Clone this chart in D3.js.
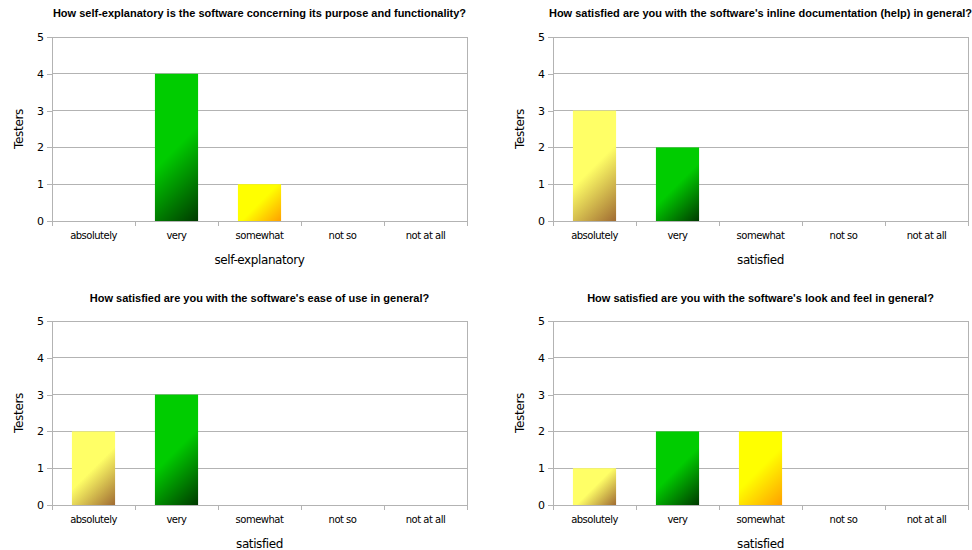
<!DOCTYPE html>
<html>
<head>
<meta charset="utf-8">
<script src="https://cdn.jsdelivr.net/npm/d3@7"></script>
<style>
  html, body { margin: 0; padding: 0; background: #fff; }
  svg { display: block; }
</style>
</head>
<body>
<svg id="chart" width="972" height="550"></svg>
<script>
// Survey answers, one panel per question
const categories = ["absolutely", "very", "somewhat", "not so", "not at all"];
const yTicks = [0, 1, 2, 3, 4, 5];

const titles = [
  "How self-explanatory is the software concerning its purpose and functionality?",
  "How satisfied are you with the software's inline documentation (help) in general?",
  "How satisfied are you with the software's ease of use in general?",
  "How satisfied are you with the software's look and feel in general?"
];
const xTitles = ["self-explanatory", "satisfied", "satisfied", "satisfied"];
const yTitle = "Testers";

const selfExplanatory = [0, 4, 1, 0, 0];
const inlineDocumentation = [3, 2, 0, 0, 0];
const easeOfUse = [2, 3, 0, 0, 0];
const lookAndFeel = [1, 2, 2, 0, 0];
const panelValues = [selfExplanatory, inlineDocumentation, easeOfUse, lookAndFeel];

// Bar fill: light colour at top-left, darkening toward bottom-right
const barColors = {
  "absolutely": ["#ffff66", "#a06b32"],
  "very":       ["#00cc00", "#003a00"],
  "somewhat":   ["#ffff00", "#ff9f00"],
  "not so":     ["#ff9966", "#b33a00"],
  "not at all": ["#ff3333", "#800000"]
};

// Panel frames (plot-area rectangles)
const panels = [
  { left: 52,  right: 467, top: 37,  bottom: 221, titleY: 17 },
  { left: 553, right: 968, top: 37,  bottom: 221, titleY: 17 },
  { left: 52,  right: 467, top: 321, bottom: 505, titleY: 302 },
  { left: 553, right: 968, top: 321, bottom: 505, titleY: 302 }
];

const svg = d3.select("#chart");
const defs = svg.append("defs");
const gridColor = "#b3b3b3";

panels.forEach((p, i) => {
  const values = panelValues[i];
  const g = svg.append("g");

  const x = d3.scaleBand().domain(categories).range([p.left, p.right]).paddingInner(0.48).paddingOuter(0.24);
  const xEdges = d3.scaleLinear().domain([0, categories.length]).range([p.left, p.right]);
  const y = d3.scaleLinear().domain([0, 5]).range([p.bottom, p.top]);

  // horizontal grid lines
  g.append("g").selectAll("line").data(yTicks).join("line")
    .attr("x1", p.left).attr("x2", p.right)
    .attr("y1", d => y(d)).attr("y2", d => y(d))
    .attr("stroke", gridColor).attr("stroke-width", 1)
    .attr("shape-rendering", "crispEdges");

  // frame sides
  g.append("line").attr("x1", p.left).attr("x2", p.left).attr("y1", p.top).attr("y2", p.bottom)
    .attr("stroke", gridColor).attr("shape-rendering", "crispEdges");
  g.append("line").attr("x1", p.right).attr("x2", p.right).attr("y1", p.top).attr("y2", p.bottom)
    .attr("stroke", gridColor).attr("shape-rendering", "crispEdges");

  // y axis
  const yAxis = d3.axisLeft(y).tickValues(yTicks).tickFormat(d3.format("d")).tickSize(5).tickPadding(3);
  const ya = g.append("g").attr("transform", `translate(${p.left},0)`).call(yAxis);
  ya.select(".domain").remove();
  ya.selectAll(".tick line").attr("stroke", gridColor).attr("shape-rendering", "crispEdges");
  ya.selectAll(".tick text").attr("fill", "#000")
    .style("font-family", "DejaVu Sans").style("font-size", "11px");

  // x axis: ticks at category boundaries, labels in band centres
  const edgeTicks = d3.range(categories.length + 1);
  g.append("g").selectAll("line").data(edgeTicks).join("line")
    .attr("x1", d => xEdges(d)).attr("x2", d => xEdges(d))
    .attr("y1", p.bottom).attr("y2", p.bottom + 5)
    .attr("stroke", gridColor).attr("shape-rendering", "crispEdges");
  g.append("g").selectAll("text").data(categories).join("text")
    .attr("x", d => x(d) + x.bandwidth() / 2)
    .attr("y", p.bottom + 18)
    .attr("text-anchor", "middle")
    .style("font-family", "DejaVu Sans").style("font-size", "10px")
    .style("letter-spacing", "-0.5px")
    .attr("fill", "#000")
    .text(d => d);

  // bars with per-bar diagonal gradients
  const data = categories.map((c, k) => ({ c, v: values[k] })).filter(d => d.v > 0);
  data.forEach((d, k) => {
    const bx = x(d.c), by = y(d.v), bw = x.bandwidth(), bh = y(0) - y(d.v);
    const s = (bw + bh) / 2;
    const id = `grad-${i}-${k}`;
    const lg = defs.append("linearGradient").attr("id", id)
      .attr("gradientUnits", "userSpaceOnUse")
      .attr("x1", bx).attr("y1", by).attr("x2", bx + s).attr("y2", by + s);
    lg.append("stop").attr("offset", 0).attr("stop-color", barColors[d.c][0]);
    lg.append("stop").attr("offset", 0.5).attr("stop-color", barColors[d.c][0]);
    lg.append("stop").attr("offset", 1).attr("stop-color", barColors[d.c][1]);
    g.append("rect")
      .attr("x", bx).attr("y", by)
      .attr("width", bw).attr("height", bh)
      .attr("fill", `url(#${id})`);
  });

  // titles
  g.append("text")
    .attr("x", (p.left + p.right) / 2).attr("y", p.titleY)
    .attr("text-anchor", "middle")
    .style("font-family", "Liberation Sans, Arial, sans-serif")
    .style("font-weight", "bold").style("font-size", "11px")
    .attr("fill", "#000")
    .text(titles[i]);

  g.append("text")
    .attr("x", (p.left + p.right) / 2).attr("y", p.bottom + 43)
    .attr("text-anchor", "middle")
    .style("font-family", "DejaVu Sans").style("font-size", "12px")
    .style("letter-spacing", "-0.4px")
    .attr("fill", "#000")
    .text(xTitles[i]);

  g.append("text")
    .attr("transform", `translate(${p.left - 29},${(p.top + p.bottom) / 2}) rotate(-90)`)
    .attr("text-anchor", "middle")
    .style("font-family", "DejaVu Sans").style("font-size", "12px")
    .style("letter-spacing", "-0.3px")
    .attr("fill", "#000")
    .text(yTitle);
});
</script>
</body>
</html>
